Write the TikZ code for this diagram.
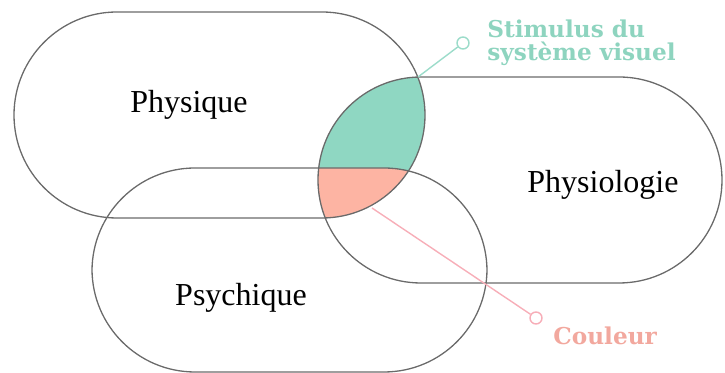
\documentclass[tikz,border=0pt]{standalone}
\usepackage{fontspec}
\setmainfont{Liberation Serif}
\newfontfamily\calloutfont{DejaVu Serif}
\usetikzlibrary{positioning}
\definecolor{zoneline}{HTML}{6A6A6A}
\definecolor{greenfill}{HTML}{8FD7C2}
\definecolor{salmonfill}{HTML}{FDB4A3}
\definecolor{greenline}{HTML}{9CDCCA}
\definecolor{pinkline}{HTML}{F7AEB8}
\definecolor{greentext}{HTML}{8ED4BF}
\definecolor{salmontext}{HTML}{F2A89E}
\tikzset{
  % Specifications for style of zones and labels:
  zone/.style = {
    draw=zoneline,
    line width=0.65pt,
    rounded corners=51.5pt
  },
  zonelabel/.style = {
    anchor=base,
    inner sep=0pt,
    font=\fontsize{16}{19}\selectfont
  },
  callout/.style = {
    anchor=base west,
    inner sep=0pt,
    align=left,
    font=\calloutfont\bfseries\fontsize{11.6}{11.8}\selectfont
  },
  pin/.style = {
    circle,
    draw,
    fill=white,
    line width=0.7pt,
    inner sep=0pt,
    minimum size=6pt
  },
  pinline/.style = {
    line width=0.7pt
  }
}

\begin{document}
\begin{tikzpicture}[x=0.5pt, y=-0.5pt]
    \useasboundingbox (0,0) rectangle (725,373);
    % Shapes of the three zones
    \def\physique{(14,12) rectangle (425,218)}
    \def\physiologie{(318,77) rectangle (722,283)}
    \def\psychique{(92,168) rectangle (487,372)}
    % Intersections
    \begin{scope}
      \clip[rounded corners=51.5pt] \physique;
      \clip[rounded corners=51.5pt] \physiologie;
      \fill[greenfill] (0,0) rectangle (725,373);
      \clip[rounded corners=51.5pt] \psychique;
      \fill[salmonfill] (0,0) rectangle (725,373);
    \end{scope}
    % Outlines
    \draw[zone] \physique;
    \draw[zone] \physiologie;
    \draw[zone] \psychique;
    % Zone labels
    \node[zonelabel] (physique)    at (189,113) {Physique};
    \node[zonelabel] (physiologie) at (603,193) {Physiologie};
    \node[zonelabel] (psychique)   at (241,306) {Psychique};
    % Callouts
    \coordinate (stimulus-end) at (418,77);
    \coordinate (couleur-end)  at (372,208);
    \node[pin, draw=greenline] (stimulus-pin) at (463,43) {};
    \node[pin, draw=pinkline]  (couleur-pin)  at (536,318) {};
    \draw[pinline, greenline] (stimulus-pin) -- (stimulus-end);
    \draw[pinline, pinkline]  (couleur-pin)  -- (couleur-end);
    \node[callout, anchor=north west, text=greentext] (stimulus) at (487,19) {Stimulus du\\système visuel};
    \node[callout, text=salmontext] (couleur) at (553,345) {Couleur};
  \end{tikzpicture}
\end{document}
